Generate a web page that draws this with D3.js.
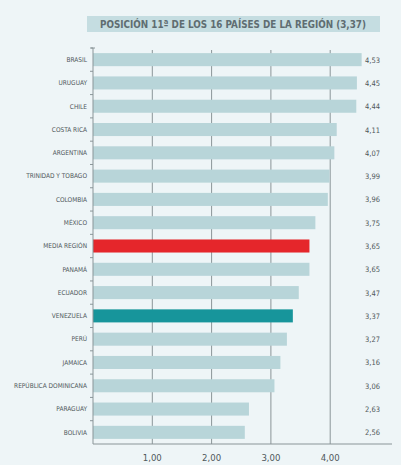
<!DOCTYPE html>
<html>
<head>
<meta charset="utf-8">
<script src="https://cdn.jsdelivr.net/npm/d3@7"></script>
<style>
  html, body { margin: 0; padding: 0; background: #eef5f7; }
  svg { display: block; }
</style>
</head>
<body>
<svg id="chart" width="401" height="465"></svg>
<script>
// Índice por país (escala 1–5)
const countries = [
  "BRASIL", "URUGUAY", "CHILE", "COSTA RICA", "ARGENTINA", "TRINIDAD Y TOBAGO",
  "COLOMBIA", "MÉXICO", "MEDIA REGIÓN", "PANAMÁ", "ECUADOR", "VENEZUELA",
  "PERÚ", "JAMAICA", "REPÚBLICA DOMINICANA", "PARAGUAY", "BOLIVIA"
];
const scores = [4.53, 4.45, 4.44, 4.11, 4.07, 3.99, 3.96, 3.75, 3.65, 3.65, 3.47, 3.37, 3.27, 3.16, 3.06, 2.63, 2.56];
const xTicks = [1, 2, 3, 4];
const title = "POSICIÓN 11ª DE LOS 16 PAÍSES DE LA REGIÓN (3,37)";

const data = countries.map((c, i) => ({ name: c, value: scores[i] }));

const es = d3.formatLocale({ decimal: ",", thousands: ".", grouping: [3], currency: ["", " €"] });
const fmt = es.format(".2f");

const svg = d3.select("#chart");
const font = "'Liberation Sans Narrow', 'DejaVu Sans Condensed', 'Liberation Sans', sans-serif";

const plotLeft = 93, plotTop = 48, plotBottom = 444;
const x = d3.scaleLinear().domain([0, 5]).range([plotLeft, plotLeft + 5 * 59.3]);
const y = d3.scaleBand().domain(countries).range([plotTop, plotBottom])
  .paddingInner(0.44).paddingOuter(0.22);

// Title box
svg.append("rect").attr("x", 87).attr("y", 16).attr("width", 293).attr("height", 16)
  .attr("fill", "#c5dde1");
svg.append("text").attr("x", 100).attr("y", 28)
  .attr("font-family", font).attr("font-weight", "bold")
  .attr("font-size", 10.5).attr("fill", "#5f6d71")
  .attr("textLength", 266).attr("lengthAdjust", "spacingAndGlyphs")
  .text(title);

// Vertical gridlines
svg.append("g").selectAll("line").data(xTicks).join("line")
  .attr("x1", d => x(d)).attr("x2", d => x(d))
  .attr("y1", plotTop + 2).attr("y2", plotBottom)
  .attr("stroke", "#8a9598").attr("stroke-width", 1);

// Bars
const barColor = d => d.name === "MEDIA REGIÓN" ? "#e5262b" : d.name === "VENEZUELA" ? "#17959b" : "#b8d5d9";
svg.append("g").selectAll("rect").data(data).join("rect")
  .attr("x", x(0)).attr("y", d => y(d.name))
  .attr("width", d => x(d.value) - x(0)).attr("height", y.bandwidth())
  .attr("fill", barColor);

// Left axis with ticks between rows
const yAxis = svg.append("g");
yAxis.append("line").attr("x1", plotLeft).attr("x2", plotLeft).attr("y1", plotTop).attr("y2", plotBottom)
  .attr("stroke", "#8a9598");
const boundaries = d3.range(countries.length).map(i => plotTop + i * y.step());
yAxis.selectAll("line.tk").data(boundaries).join("line").attr("class", "tk")
  .attr("x1", plotLeft - 3).attr("x2", plotLeft).attr("y1", d => d).attr("y2", d => d)
  .attr("stroke", "#8a9598");
yAxis.append("line").attr("x1", plotLeft - 2).attr("x2", plotLeft + 2).attr("y1", plotTop).attr("y2", plotTop)
  .attr("stroke", "#8a9598");

// Category labels
svg.append("g").selectAll("text").data(data).join("text")
  .attr("x", plotLeft - 6).attr("y", d => y(d.name) + y.bandwidth() / 2 + 2.3)
  .attr("text-anchor", "end").attr("font-family", font).attr("font-size", 6.5)
  .attr("fill", "#4f585b").text(d => d.name);

// Value labels
svg.append("g").selectAll("text").data(data).join("text")
  .attr("x", 365).attr("y", d => y(d.name) + y.bandwidth() / 2 + 3)
  .attr("font-family", font).attr("font-size", 7.5)
  .attr("fill", "#4f585b").text(d => fmt(d.value));

// Bottom axis
svg.append("line").attr("x1", plotLeft).attr("x2", 392).attr("y1", plotBottom).attr("y2", plotBottom)
  .attr("stroke", "#8a9598");
svg.append("g").selectAll("text").data(xTicks).join("text")
  .attr("x", d => x(d)).attr("y", 460.5).attr("text-anchor", "middle")
  .attr("font-family", font).attr("font-size", 9.5).attr("fill", "#4f585b")
  .text(d => fmt(d));
</script>
</body>
</html>
